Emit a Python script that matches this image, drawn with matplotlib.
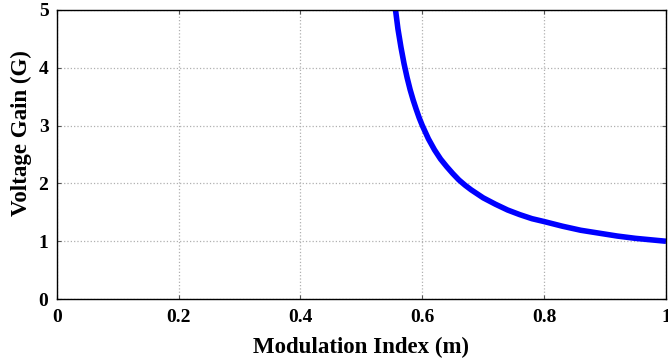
import matplotlib
matplotlib.use("Agg")
import matplotlib.pyplot as plt

m_values = [0.556, 0.56, 0.565, 0.57, 0.575, 0.58, 0.585, 0.59, 0.595, 0.60,
            0.61, 0.62, 0.63, 0.64, 0.65, 0.66, 0.67, 0.68, 0.69, 0.70,
            0.72, 0.74, 0.76, 0.78, 0.80, 0.83, 0.86, 0.89, 0.92, 0.95, 0.98, 1.00]
gain_values = [5.0, 4.67, 4.35, 4.07, 3.83, 3.62, 3.44, 3.28, 3.13, 3.0,
               2.77, 2.58, 2.42, 2.29, 2.17, 2.06, 1.97, 1.89, 1.82, 1.75,
               1.64, 1.54, 1.46, 1.39, 1.34, 1.26, 1.19, 1.14, 1.09, 1.05, 1.02, 1.0]
x_ticks = [0, 0.2, 0.4, 0.6, 0.8, 1]
x_tick_labels = ["0", "0.2", "0.4", "0.6", "0.8", "1"]
y_ticks = [0, 1, 2, 3, 4, 5]
y_tick_labels = ["0", "1", "2", "3", "4", "5"]

plt.rcParams['font.family'] = ['Liberation Serif', 'DejaVu Serif']
plt.rcParams['font.weight'] = 'bold'

fig = plt.figure(figsize=(6.68, 3.63), dpi=100)
ax = fig.add_axes([0.085, 0.176, 0.912, 0.797])
ax.plot(m_values, gain_values, color='#0000ff', linewidth=4.0,
        solid_capstyle='butt', solid_joinstyle='round')
ax.set_xlim(0, 1)
ax.set_ylim(0, 5)
ax.set_xticks(x_ticks)
ax.set_xticklabels(x_tick_labels)
ax.set_yticks(y_ticks)
ax.set_yticklabels(y_tick_labels)
ax.tick_params(direction='in', top=True, right=True, length=3, width=0.8,
               color='#555555', labelsize=14)
ax.tick_params(axis='x', pad=7)
ax.tick_params(axis='y', pad=6)
for lab in ax.get_xticklabels() + ax.get_yticklabels():
    lab.set_fontweight('bold')
ax.grid(True, color='#b0b0b0', linestyle=':', linewidth=0.9)
for s in ax.spines.values():
    s.set_linewidth(1.0)
    s.set_color('black')
ax.set_xlabel('Modulation Index (m)', fontsize=16.5, fontweight='bold', labelpad=8)
ax.set_ylabel('Voltage Gain (G)', fontsize=16.5, fontweight='bold')
ax.yaxis.set_label_coords(-0.0405, 0.574)
fig.savefig('out.png', dpi=100)
